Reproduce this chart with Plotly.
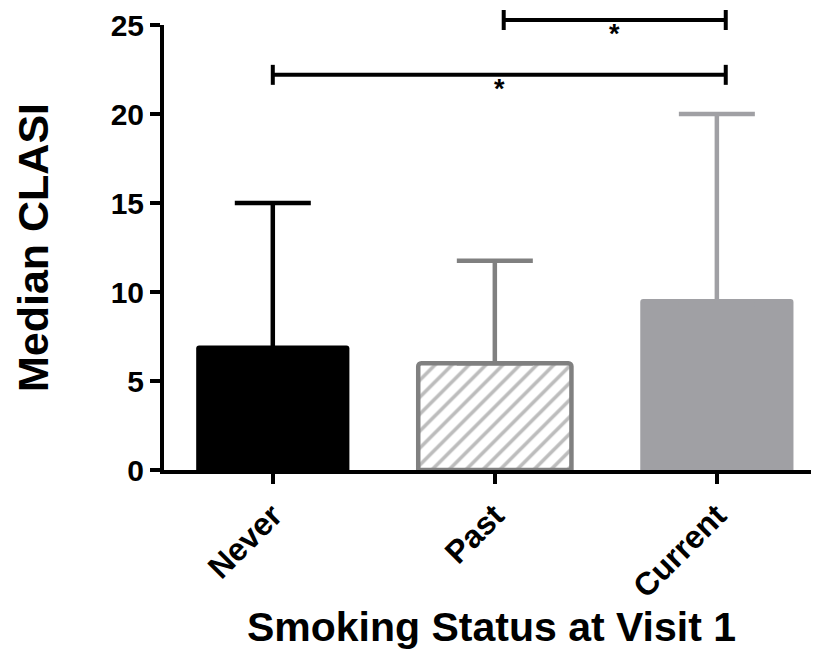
import plotly.graph_objects as go

categories = ["Never", "Past", "Current"]
medians = [7.0, 6.0, 9.6]
upper = [15.0, 11.75, 20.0]
bar_colors = ["#000000", "#ffffff", "#a0a0a4"]
err_colors = ["#000000", "#808080", "#a0a0a4"]
line_colors = ["#000000", "#808080", "#a0a0a4"]
patterns = ["", "/", ""]

# significance brackets: (x_start, x_end, height, label)
bracket_x0 = [1.04, 0.0]
bracket_x1 = [2.04, 2.04]
bracket_y = [25.28, 22.2]
bracket_lbl = ["*", "*"]

YMAX = 25
FONT = "Arial, Liberation Sans, sans-serif"

fig = go.Figure()
for i, cat in enumerate(categories):
    hatched = patterns[i] != ""
    fig.add_trace(go.Bar(
        x=[i], y=[medians[i]], width=0.69,
        marker=dict(
            color=bar_colors[i],
            line=dict(color=line_colors[i], width=4.5 if hatched else 0),
            pattern=dict(shape=patterns[i], fgcolor="#7a7a7a", bgcolor="#ffffff",
                         size=12, solidity=0.3),
            cornerradius=3,
        ),
        error_y=dict(type="data", symmetric=False, array=[upper[i] - medians[i]],
                     arrayminus=[0 if hatched else 0.3], color=err_colors[i],
                     thickness=4.5, width=38),
        showlegend=False, name=cat,
    ))

for x0, x1, yv, lbl in zip(bracket_x0, bracket_x1, bracket_y, bracket_lbl):
    yp = yv / YMAX
    fig.add_shape(type="line", xref="x", yref="paper", x0=x0, x1=x1, y0=yp, y1=yp,
                  line=dict(color="black", width=4))
    for xe in (x0, x1):
        fig.add_shape(type="line", xref="x", yref="paper", x0=xe, x1=xe,
                      y0=yp - 10 / 445, y1=yp + 10 / 445,
                      line=dict(color="black", width=4))
    fig.add_annotation(x=(x0 + x1) / 2, y=yp, xref="x", yref="paper", text=lbl,
                       showarrow=False, yanchor="top", yshift=3,
                       font=dict(family=FONT, size=27, color="black", weight="bold"))

fig.update_layout(
    width=811, height=646,
    margin=dict(l=156, r=0, t=17, b=184),
    plot_bgcolor="white", paper_bgcolor="white",
    barmode="overlay",
    font=dict(family=FONT, color="black", weight="bold"),
)
fig.update_xaxes(
    range=[-0.49, 2.46], tickvals=[0, 1, 2], ticktext=categories, automargin=False,
    tickangle=-45, ticks="outside", ticklen=10, tickwidth=4, tickcolor="black",
    showline=True, linewidth=4, linecolor="black", showgrid=False, zeroline=False,
    tickfont=dict(family=FONT, size=32, weight="bold"),
    title=dict(text="Smoking Status at Visit 1", standoff=6,
               font=dict(family=FONT, size=41, weight="bold")),
)
fig.update_yaxes(
    range=[0, YMAX], dtick=5, ticks="outside", ticklen=10, tickwidth=4, tickcolor="black",
    showline=True, linewidth=4, linecolor="black", showgrid=False, zeroline=False,
    automargin=False,
    tickfont=dict(family=FONT, size=30, weight="bold"),
    title=dict(text="Median CLASI", standoff=50,
               font=dict(family=FONT, size=43, weight="bold")),
)

fig.write_html("out.html")
